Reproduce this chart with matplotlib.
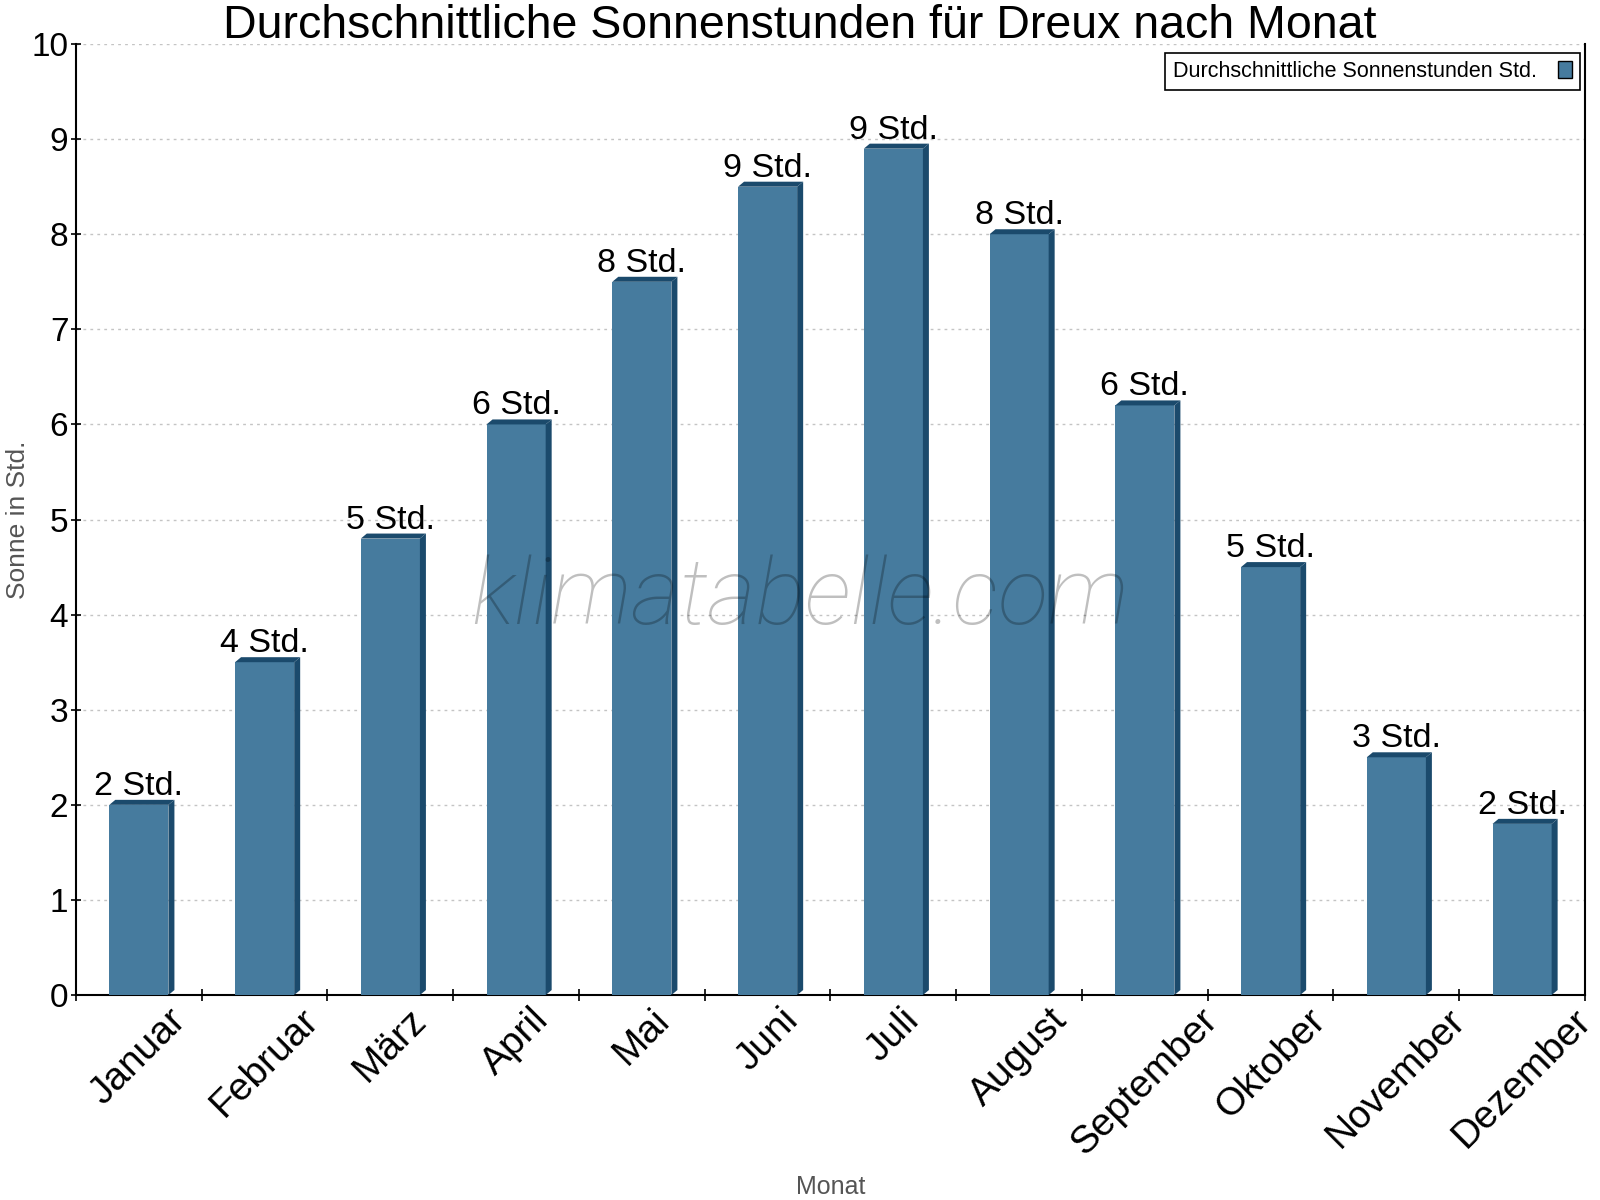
import math
import matplotlib
matplotlib.use("Agg")
import matplotlib.pyplot as plt
from matplotlib.patches import Polygon
from matplotlib.ticker import FixedLocator

plt.rcParams['font.family'] = ['Liberation Sans', 'DejaVu Sans']

# Daten
monate = ['Januar', 'Februar', 'März', 'April', 'Mai', 'Juni', 'Juli',
          'August', 'September', 'Oktober', 'November', 'Dezember']
sonnenstunden = [2.0, 3.5, 4.8, 6.0, 7.5, 8.5, 8.9, 8.0, 6.2, 4.5, 2.5, 1.8]

front_col = '#467b9e'
dark_col = '#1b4a6c'

fig = plt.figure(figsize=(16, 12), dpi=100)
ax = fig.add_axes([0.0475, 0.1708, 0.9431, 0.7925])

n = len(monate)
pos = [i + 0.5 for i in range(n)]
width = 0.47

ax.set_xlim(0, n)
ax.set_ylim(0, 10)

bars = ax.bar(pos, sonnenstunden, width=width, color=front_col, zorder=3,
              label='Durchschnittliche Sonnenstunden Std.')

# 3D-Effekt: Tiefe in Pixeln -> Dateneinheiten
inv = ax.transData.inverted()
p0 = ax.transData.transform((0, 0))
dx, dy = inv.transform((p0[0] + 6, p0[1] + 5)) - inv.transform(p0)

for b in bars:
    x0 = b.get_x()
    x1 = x0 + b.get_width()
    h = b.get_height()
    side = Polygon([(x1, 0), (x1 + dx, dy), (x1 + dx, h + dy), (x1, h)],
                   closed=True, facecolor=dark_col, edgecolor='none', zorder=3)
    top = Polygon([(x0, h), (x0 + dx, h + dy), (x1 + dx, h + dy), (x1, h)],
                  closed=True, facecolor=dark_col, edgecolor='none', zorder=3)
    ax.add_patch(side)
    ax.add_patch(top)
    lab = '%d Std.' % math.floor(h + 0.5)
    ax.annotate(lab, (b.get_x() + b.get_width() / 2, h + dy), xytext=(0, 3.6),
                textcoords='offset points', ha='center', va='baseline',
                fontsize=24.5, zorder=5)

# Achsen
ax.set_yticks(range(0, 11))
ax.tick_params(axis='y', direction='inout', length=7, width=1.2, labelsize=24, pad=2)
ax.set_xticks(pos)
ax.set_xticklabels(monate, rotation=45, ha='center', fontsize=28)
ax.tick_params(axis='x', which='major', length=0, pad=5)
ax.xaxis.set_minor_locator(FixedLocator(range(0, n + 1)))
ax.tick_params(axis='x', which='minor', direction='inout', length=8, width=1.2)

for s in ['left', 'bottom', 'right']:
    ax.spines[s].set_linewidth(1.5)
ax.spines['top'].set_visible(False)

ax.grid(axis='y', color='#c4c4c4', linestyle=(0, (2, 3)), linewidth=1, zorder=0)
ax.set_axisbelow(True)

ax.set_ylabel('Sonne in Std.', fontsize=19, color='#555555')
ax.yaxis.set_label_coords(-0.0385, 0.5)
ax.yaxis.label.set_va('center')
ax.set_xlabel('Monat', fontsize=18, color='#555555')
ax.xaxis.set_label_coords(0.5, -0.202)
ax.xaxis.label.set_va('center')

# Wasserzeichen
ax.text(0.48, 0.39, 'klimatabelle.com', transform=ax.transAxes, fontsize=67,
        family='Roboto', fontweight='light', style='italic', color='black',
        alpha=0.25, ha='center', va='baseline', zorder=6)

leg = ax.legend(loc='upper right', bbox_to_anchor=(1.0, 0.996), borderaxespad=0.24,
                fontsize=15.5, markerfirst=False, fancybox=False, framealpha=1,
                edgecolor='black', handlelength=0.62, handleheight=0.8,
                handletextpad=1.0, borderpad=0.38)
leg.get_frame().set_linewidth(1.2)
for hnd in leg.legend_handles:
    hnd.set_edgecolor('black')
    hnd.set_linewidth(1)

fig.text(0.5, 1 - 38 / 1200, 'Durchschnittliche Sonnenstunden für Dreux nach Monat',
         ha='center', va='baseline', fontsize=33.5)

fig.savefig('out.png', dpi=100, facecolor='white')
